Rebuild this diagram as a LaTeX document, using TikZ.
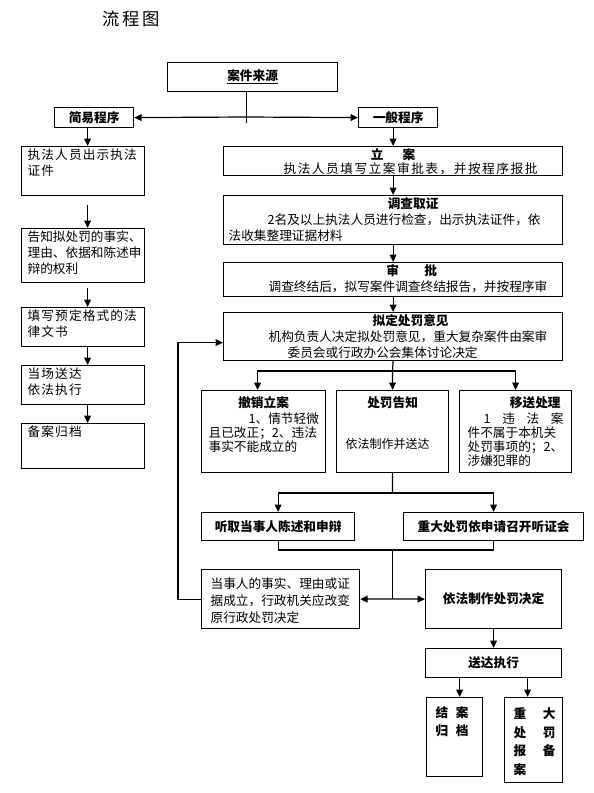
\documentclass[tikz,border=0pt]{standalone}
\usepackage{fontspec}
\setmainfont{Noto Sans CJK SC}
\usetikzlibrary{arrows.meta}
\newdimen\pxu \pxu=0.75pt

\begin{document}
\begin{tikzpicture}[x=0.75pt,y=-0.75pt,
  font=\fontsize{9.5}{12}\selectfont,
  line/.style={line width=0.9pt},
  arr/.style={line width=0.9pt,-{Triangle[length=5.5pt,width=5pt]}},
  box/.style={draw,line width=0.9pt,anchor=north west,inner sep=2\pxu},
  cbox/.style={draw,line width=0.9pt,anchor=north west,inner sep=0pt,align=center}]

\useasboundingbox (0,0) rectangle (593,793);

\node[font=\fontsize{13}{15}\selectfont] (title) at (131,19) {流\hspace{3\pxu}程\hspace{3\pxu}图};

% ---------------- SOURCE ----------------

\node[cbox,minimum width=170\pxu,minimum height=29\pxu] (src) at (167,62) {\textbf{\underline{案件来源}}};
\node[cbox,minimum width=79\pxu,minimum height=20\pxu] (jy) at (54,107) {\textbf{简易程序}};
\node[cbox,minimum width=79\pxu,minimum height=20\pxu] (yb) at (358,107) {\textbf{一般程序}};

\coordinate (j0) at (246,117);
\draw[line] ([xshift=-6\pxu]src.south) -- ++(0,31);
\draw[arr] (j0) -- (jy.east);
\draw[arr] (j0) -- (yb.west);

% ---------------- SIMPLE PROCEDURE ----------------

\node[box] (s1) at (21,146) {\parbox[t][45\pxu][t]{119\pxu}{\addfontfeature{LetterSpace=9}%
  \hspace*{4\pxu}执法人员出示执法\\
  \hspace*{4\pxu}证件}};
\node[box] (s2) at (21,228) {\parbox[t][50\pxu][t]{119\pxu}{%
  \hspace*{4\pxu}告知拟处罚的事实、\\
  \hspace*{4\pxu}理由、依据和陈述申\\
  \hspace*{4\pxu}辩的权利}};
\node[box] (s3) at (21,307) {\parbox[t][35\pxu][t]{119\pxu}{\addfontfeature{LetterSpace=9}%
  \hspace*{4\pxu}填写预定格式的法\\
  \hspace*{4\pxu}律文书}};
\node[box] (s4) at (21,365) {\parbox[t][35\pxu][t]{119\pxu}{\addfontfeature{LetterSpace=9}%
  \hspace*{4\pxu}当场送达\\
  \hspace*{4\pxu}依法执行}};
\node[box] (s5) at (21,423) {\parbox[t][41\pxu][t]{119\pxu}{\addfontfeature{LetterSpace=9}%
  \hspace*{4\pxu}备案归档}};

\draw[arr] ([xshift=-6.5\pxu]jy.south) -- ([xshift=4.5\pxu]s1.north);
\draw[arr] ([xshift=4.5\pxu,yshift=-9\pxu]s1.south) -- ([xshift=4.5\pxu]s2.north);
\draw[arr] ([xshift=4.5\pxu,yshift=-5\pxu]s2.south) -- ([xshift=4.5\pxu]s3.north);
\draw[arr] ([xshift=4.5\pxu]s3.south) -- ([xshift=4.5\pxu]s4.north);
\draw[arr] ([xshift=4.5\pxu]s4.south) -- ([xshift=4.5\pxu]s5.north);

% ---------------- GENERAL PROCEDURE ----------------

\node[box] (la) at (223,146) {\parbox[t][25\pxu][t]{335\pxu}{\fontsize{9.5}{10.5}\selectfont
  \makebox[\linewidth]{\textbf{立\hspace{1.5em}案}}\\
  \hspace*{58\pxu}{\addfontfeature{LetterSpace=12}执法人员填写立案审批表，并按程序报批}}};
\node[box] (dc) at (223,195) {\parbox[t][45\pxu][t]{335\pxu}{%
  \makebox[\linewidth]{\hspace*{40\pxu}\textbf{调查取证}}\\
  \hspace*{42\pxu}2名及以上执法人员进行检查，出示执法证件，依\\
  \hspace*{3\pxu}法收集整理证据材料}};
\node[box] (sp) at (223,262) {\parbox[t][30\pxu][t]{335\pxu}{%
  \makebox[\linewidth]{\hspace*{37\pxu}\textbf{审\hspace{2em}批}}\\
  \hspace*{43\pxu}调查终结后，拟写案件调查终结报告，并按程序审}};
\node[box] (nd) at (223,312) {\parbox[t][44\pxu][t]{335\pxu}{%
  \makebox[\linewidth]{\hspace*{35\pxu}\textbf{拟定处罚意见}}\\
  \hspace*{43\pxu}机构负责人决定拟处罚意见，重大复杂案件由案审\\
  \hspace*{62\pxu}委员会或行政办公会集体讨论决定}};

\draw[arr] (yb.south -| la.north) -- (la.north);
\draw[arr] (la.south) -- (dc.north);
\draw[arr] (dc.south) -- (sp.north);
\draw[arr] (sp.south) -- (nd.north);

% ---------------- THREE OUTCOMES ----------------

\node[box] (cx) at (201,390) {\parbox[t][78\pxu][t]{120\pxu}{\fontsize{9.5}{10.5}\selectfont
  \vspace*{4\pxu}\makebox[\linewidth]{\textbf{撤销立案}}\\[2\pxu]
  \hspace*{45\pxu}1、情节轻微\\
  \hspace*{5\pxu}且已改正；2、违法\\
  \hspace*{5\pxu}事实不能成立的}};
\node[box] (gz) at (336,390) {\parbox[t][78\pxu][t]{108\pxu}{\fontsize{9.5}{10.5}\selectfont
  \vspace*{4\pxu}\makebox[\linewidth]{\textbf{处罚告知}}\\[27\pxu]
  \hspace*{7\pxu}{\fontsize{9}{10.5}\selectfont 依法制作并送达}}};
\node[box] (yc) at (459,390) {\parbox[t][78\pxu][t]{108\pxu}{\fontsize{9.5}{10.5}\selectfont
  \vspace*{4\pxu}\makebox[\linewidth][r]{\textbf{移送处理}\hspace*{9\pxu}}\\[2\pxu]
  \hspace*{22\pxu}1\hfill 违\hfill 法\hfill 案\hspace*{6\pxu}\\
  \hspace*{6\pxu}件不属于本机关\\
  \hspace*{6\pxu}处罚事项的；2、\\
  \hspace*{6\pxu}涉嫌犯罪的}};

\coordinate (b1) at (392.5,371);
\draw[line] (nd.south) -- (b1);
\draw[arr] (b1) -| ([xshift=-6\pxu]cx.north);
\draw[arr] (b1) -- (gz.north);
\draw[arr] (b1) -| (yc.north);

% ---------------- HEARING ----------------

\node[cbox,minimum width=153\pxu,minimum height=28\pxu] (tq) at (201,512) {\textbf{听取当事人陈述和申辩}};
\node[cbox,minimum width=180\pxu,minimum height=28\pxu] (zd) at (403,512) {\textbf{重大处罚依申请召开听证会}};

\coordinate (b2) at (392.5,493);
\draw[line] (gz.south) -- (b2);
\draw[arr] (b2) -| (tq.north);
\draw[arr] (b2) -| (zd.north);

% ---------------- DECISION ----------------

\node[box] (ds) at (201,569) {\parbox[t][55\pxu][t]{154\pxu}{\fontsize{9.5}{12.75}\selectfont
  \vspace*{6\pxu}\hspace*{7\pxu}当事人的事实、理由或证\\
  \hspace*{7\pxu}据成立，行政机关应改变\\
  \hspace*{7\pxu}原行政处罚决定}};
\node[cbox,minimum width=136\pxu,minimum height=59\pxu] (zf) at (425,569) {\textbf{依法制作处罚决定}};

\coordinate (b3) at (392.5,550);
\coordinate (b4) at (392.5,599);
\draw[line] (tq.south) |- (b3);
\draw[line] (zd.south) |- (b3);
\draw[line] (b3) -- (b4);
\draw[arr] (b4) -- (ds.east);
\draw[arr] (b4) -- (zf.west);
\draw[arr] (ds.west) -- ++(-23,0) |- ([yshift=-6\pxu]nd.west);

% ---------------- EXECUTION ----------------

\node[cbox,minimum width=136\pxu,minimum height=29\pxu] (sd) at (425,648) {\textbf{送达执行}};
\node[box] (ja) at (426,697) {\parbox[t][75\pxu][t]{52\pxu}{\fontsize{9.5}{13.5}\selectfont\bfseries
  \vspace*{7\pxu}\hspace*{7\pxu}结\hfill 案\hspace*{12\pxu}\\
  \hspace*{7\pxu}归\hfill 档\hspace*{12\pxu}}};
\node[box] (bz) at (504,697) {\parbox[t][81\pxu][t]{54\pxu}{\fontsize{9.5}{14}\selectfont\bfseries
  \vspace*{8\pxu}\hspace*{7\pxu}重\hfill 大\hspace*{5\pxu}\\
  \hspace*{7\pxu}处\hfill 罚\hspace*{5\pxu}\\
  \hspace*{7\pxu}报\hfill 备\hspace*{5\pxu}\\
  \hspace*{7\pxu}案}};

\draw[arr] (zf.south) -- (sd.north);
\draw[arr] ([xshift=5\pxu]ja.north |- sd.south) -- ([xshift=5\pxu]ja.north);
\draw[arr] ([xshift=-6\pxu]bz.north |- sd.south) -- ([xshift=-6\pxu]bz.north);

\end{tikzpicture}
\end{document}
